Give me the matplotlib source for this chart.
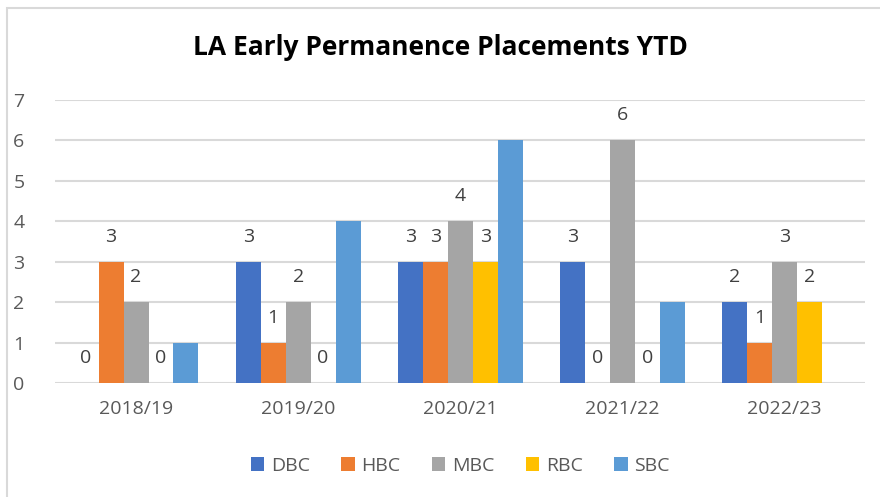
import numpy as np
import matplotlib.pyplot as plt
from matplotlib.patches import Rectangle

plt.rcParams['font.family'] = ['Open Sans', 'DejaVu Sans']

years = ['2018/19', '2019/20', '2020/21', '2021/22', '2022/23']
series = ['DBC', 'HBC', 'MBC', 'RBC', 'SBC']
dbc = [0, 3, 3, 3, 2]
hbc = [3, 1, 3, 0, 1]
mbc = [2, 2, 4, 6, 3]
rbc = [0, 0, 3, 0, 2]
sbc = [1, 4, 6, 2, 0]
colors = ['#4472C4', '#ED7D31', '#A5A5A5', '#FFC000', '#5B9BD5']
labelled = [True, True, True, True, False]

fig = plt.figure(figsize=(8.8, 4.97), dpi=100)
ax = fig.add_axes([0.0625, 0.229, 0.921, 0.57])

# outer chart border
fig.patches.append(Rectangle((7/880, -0.1), 1.1, 1.1 - 8/497, transform=fig.transFigure,
                             fill=False, edgecolor='#d9d9d9', linewidth=1.5))

x = np.arange(len(years))
w = 0.154
for i, (name, vals) in enumerate(zip(series, [dbc, hbc, mbc, rbc, sbc])):
    pos = x + (i - 2) * w
    ax.bar(pos, vals, width=w, color=colors[i], label=name, zorder=3)
    if labelled[i]:
        for px, v in zip(pos, vals):
            ax.annotate(str(v), (px, v), xytext=(0, 18), textcoords='offset points',
                        ha='center', va='center', fontsize=14, color='#404040')

ax.set_ylim(0, 7)
ax.set_xlim(-0.5, 4.5)
ax.set_yticks(range(8))
ax.set_xticks(x)
ax.set_xticklabels(years)
ax.tick_params(length=0, labelsize=14, colors='#595959')
ax.tick_params(axis='x', pad=12)
ax.tick_params(axis='y', pad=22)
ax.grid(axis='y', color='#d9d9d9', linewidth=1.5, zorder=0)
for s in ax.spines.values():
    s.set_visible(False)

fig.text(0.5, 0.905, 'LA Early Permanence Placements YTD', ha='center', va='center',
         fontsize=19, fontweight='bold', color='black')

leg = ax.legend(loc='center', bbox_to_anchor=(0.5, -0.292), ncol=5, frameon=False,
                fontsize=14, handlelength=0.7, handleheight=0.7, columnspacing=1.6,
                handletextpad=0.35)
for t in leg.get_texts():
    t.set_color('#595959')

fig.savefig('out.png', dpi=100)
